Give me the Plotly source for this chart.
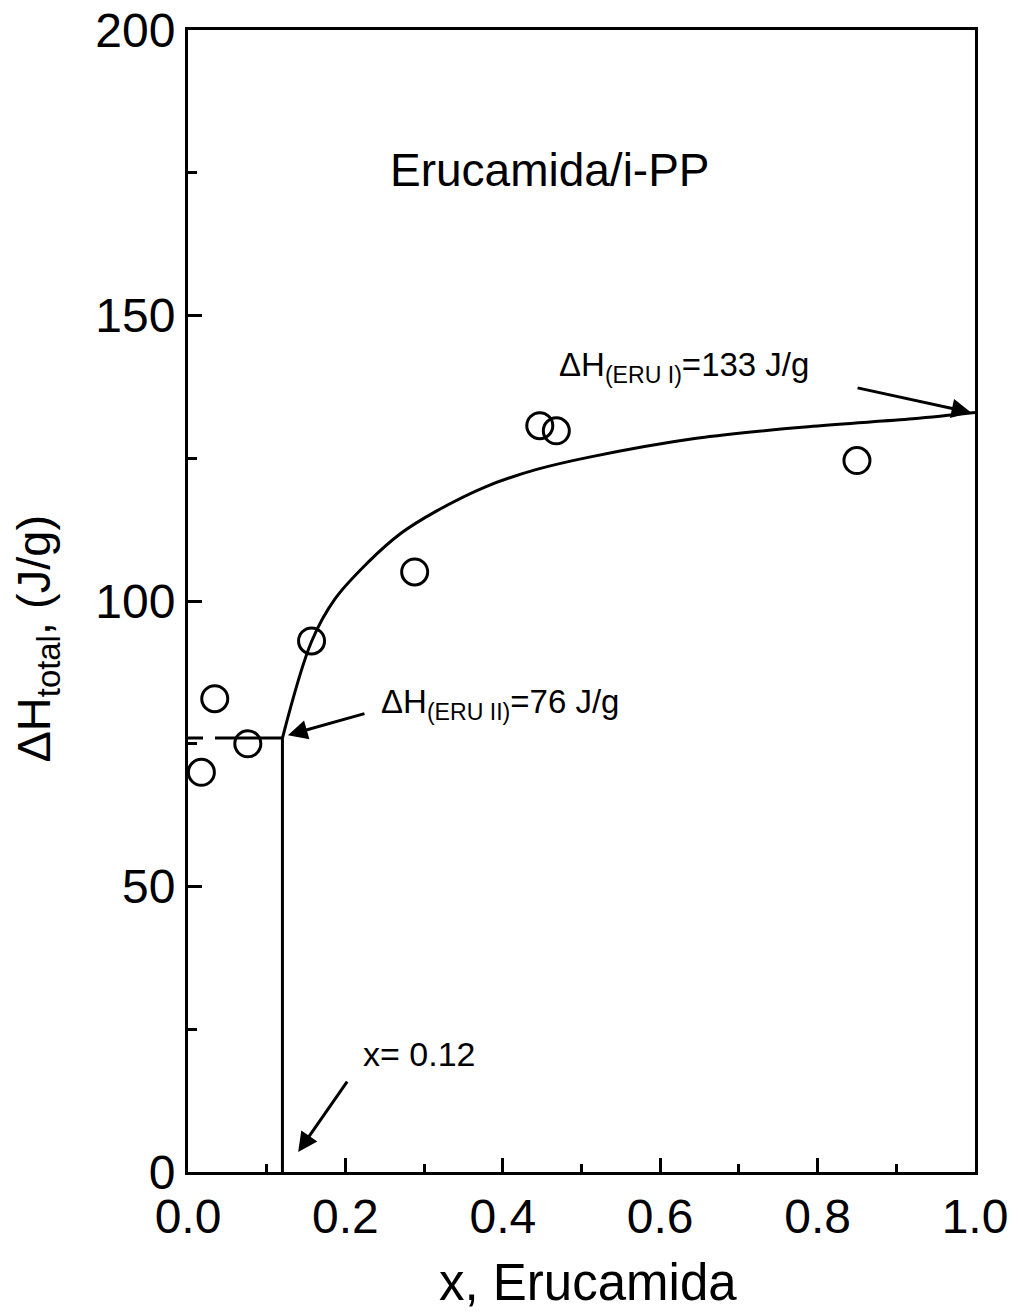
import plotly.graph_objects as go

# Experimental points
x_exp = [0.017, 0.034, 0.076, 0.157, 0.288, 0.447, 0.468, 0.850]
dh_exp = [70.0, 82.9, 75.0, 93.0, 105.1, 130.7, 129.8, 124.6]

# Model curve
x_fit = [0.12, 0.157, 0.187, 0.229, 0.271, 0.315, 0.378, 0.442, 0.510, 0.646, 0.794, 0.921, 1.0]
dh_fit = [76.0, 92.9, 100.4, 106.8, 111.9, 115.7, 120.0, 123.0, 125.2, 128.5, 130.6, 131.9, 133.0]

# Reference lines
x_crit = 0.12
dh_eru2 = 76
dh_eru1 = 133

x_ticks = [0.0, 0.2, 0.4, 0.6, 0.8, 1.0]
x_tick_labels = ["0.0", "0.2", "0.4", "0.6", "0.8", "1.0"]
y_ticks = [0, 50, 100, 150, 200]

FONT = "Liberation Sans, Arial, sans-serif"

fig = go.Figure()

fig.add_trace(go.Scatter(x=x_fit, y=dh_fit, mode="lines", line=dict(color="black", width=3, shape="spline"),
                         showlegend=False, hoverinfo="skip"))
fig.add_trace(go.Scatter(x=[0, x_crit], y=[dh_eru2, dh_eru2], mode="lines",
                         line=dict(color="black", width=3, dash="15px,12px,80px,12px"),
                         showlegend=False, hoverinfo="skip"))
fig.add_trace(go.Scatter(x=[x_crit, x_crit], y=[0, dh_eru2], mode="lines",
                         line=dict(color="black", width=3), showlegend=False, hoverinfo="skip"))
fig.add_trace(go.Scatter(x=x_exp, y=dh_exp, mode="markers",
                         marker=dict(symbol="circle-open", size=26, color="black", line=dict(width=3)),
                         showlegend=False))

axis_common = dict(showgrid=False, zeroline=False, showline=True, linecolor="black", linewidth=3,
                   mirror=True, ticks="inside", tickcolor="black", tickwidth=3, ticklen=14,
                   automargin=False, ticklabeloverflow="allow",
                   tickfont=dict(family=FONT, size=48, color="black"))

fig.update_xaxes(range=[0, 1.0], tickvals=x_ticks, ticktext=x_tick_labels,
                 minor=dict(dtick=0.1, ticks="inside", ticklen=8, tickwidth=3, tickcolor="black"),
                 **axis_common)
fig.update_yaxes(range=[0, 200], tickvals=y_ticks,
                 minor=dict(dtick=25, ticks="inside", ticklen=9, tickwidth=3, tickcolor="black"),
                 **axis_common)

ann = []
# Axis titles
ann.append(dict(text="x, Erucamida", xref="paper", yref="paper", x=0.508, y=-0.097,
                xanchor="center", yanchor="middle", showarrow=False,
                font=dict(family=FONT, size=51, color="black")))
ann.append(dict(text="ΔH<sub>total</sub>, (J/g)", xref="paper", yref="paper", x=-0.192, y=0.467,
                xanchor="center", yanchor="middle", textangle=-90, showarrow=False,
                font=dict(family=FONT, size=47, color="black")))
# Title inside plot
ann.append(dict(text="Erucamida/i-PP", x=0.46, y=175.5, xanchor="center", yanchor="middle",
                showarrow=False, font=dict(family=FONT, size=46, color="black")))
# Labels
ann.append(dict(text="ΔH<sub>(ERU I)</sub>=133 J/g", x=0.63, y=141.0, xanchor="center", yanchor="middle",
                showarrow=False, font=dict(family=FONT, size=33, color="black")))
ann.append(dict(text="ΔH<sub>(ERU II)</sub>=76 J/g", x=0.396, y=82.0, xanchor="center", yanchor="middle",
                showarrow=False, font=dict(family=FONT, size=33, color="black")))
ann.append(dict(text="x= 0.12", x=0.294, y=20.7, xanchor="center", yanchor="middle",
                showarrow=False, font=dict(family=FONT, size=34, color="black")))
# Arrows
arrow_common = dict(text="", showarrow=True, arrowhead=2, arrowsize=1.3, arrowwidth=3, arrowcolor="black")
ann.append(dict(x=0.995, y=dh_eru1, ax=-115, ay=-25, **arrow_common))
ann.append(dict(x=0.127, y=dh_eru2 + 0.5, ax=78, ay=-22, **arrow_common))
ann.append(dict(x=0.14, y=3.5, ax=50, ay=-72, **arrow_common))

# page body has an 8px default margin; size the figure so the plot box lands where the reference's is
fig.update_layout(width=1011, height=1308, margin=dict(l=180, r=44, t=22, b=144, autoexpand=False),
                  paper_bgcolor="white", plot_bgcolor="white", annotations=ann,
                  font=dict(family=FONT, color="black"))

fig.write_html("out.html")
